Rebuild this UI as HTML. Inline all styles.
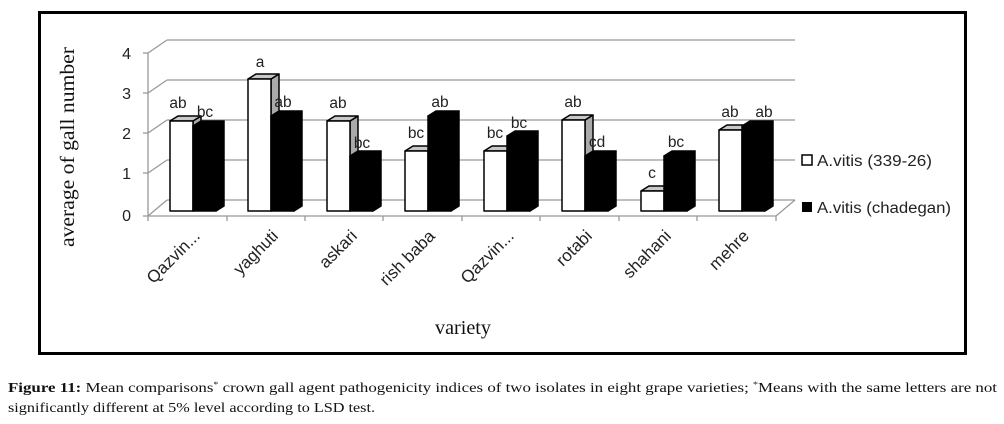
<!DOCTYPE html>
<html><head><meta charset="utf-8"><style>
body{margin:0;background:#fff;width:1004px;height:424px;overflow:hidden}
svg{display:block}
</style></head><body>
<svg width="1004" height="424" viewBox="0 0 1004 424" xmlns="http://www.w3.org/2000/svg">
<rect x="39.5" y="12.5" width="926" height="341" fill="none" stroke="#000" stroke-width="3"/>
<g stroke="#999" stroke-width="1.3" fill="none">
<line x1="167" y1="40" x2="795" y2="40"/>
<line x1="167" y1="80" x2="795" y2="80"/>
<line x1="167" y1="120" x2="795" y2="120"/>
<line x1="167" y1="160" x2="795" y2="160"/>
<line x1="167" y1="200" x2="795" y2="200"/>
<line x1="148" y1="53" x2="167" y2="40"/>
<line x1="148" y1="93" x2="167" y2="80"/>
<line x1="148" y1="133" x2="167" y2="120"/>
<line x1="148" y1="173" x2="167" y2="160"/>
<line x1="148" y1="216" x2="167" y2="200"/>
<line x1="776" y1="216" x2="795" y2="200"/>
<line x1="148" y1="53" x2="148" y2="216"/>
<line x1="148" y1="216" x2="776" y2="216"/>
<line x1="143" y1="53" x2="148" y2="53"/>
<line x1="143" y1="93" x2="148" y2="93"/>
<line x1="143" y1="133" x2="148" y2="133"/>
<line x1="143" y1="173" x2="148" y2="173"/>
<line x1="143" y1="216" x2="148" y2="216"/>
<line x1="148" y1="216" x2="148" y2="221"/>
<line x1="227" y1="216" x2="227" y2="221"/>
<line x1="305" y1="216" x2="305" y2="221"/>
<line x1="383" y1="216" x2="383" y2="221"/>
<line x1="462" y1="216" x2="462" y2="221"/>
<line x1="540" y1="216" x2="540" y2="221"/>
<line x1="619" y1="216" x2="619" y2="221"/>
<line x1="697" y1="216" x2="697" y2="221"/>
<line x1="776" y1="216" x2="776" y2="221"/>
</g>
<g font-family="Liberation Sans, sans-serif" font-size="16" fill="#222" text-anchor="end">
<text x="131" y="59">4</text><text x="131" y="99">3</text><text x="131" y="139">2</text><text x="131" y="179">1</text><text x="131" y="221">0</text>
</g>
<g stroke="#000" stroke-width="1.5" stroke-linejoin="round">
<polygon fill="#aaa" points="193,121 201,116 201,206 193,211"/><polygon fill="#c8c8c8" points="170,121 178,116 201,116 193,121"/><rect x="170" y="121" width="23" height="90" fill="#fff"/>
<polygon fill="#000" points="216,126 224,121 224,206 216,211"/><polygon fill="#000" points="193,126 201,121 224,121 216,126"/><rect x="193" y="126" width="23" height="85" fill="#000"/>
<polygon fill="#aaa" points="271,79 279,74 279,206 271,211"/><polygon fill="#c8c8c8" points="248,79 256,74 279,74 271,79"/><rect x="248" y="79" width="23" height="132" fill="#fff"/>
<polygon fill="#000" points="294,116 302,111 302,206 294,211"/><polygon fill="#000" points="271,116 279,111 302,111 294,116"/><rect x="271" y="116" width="23" height="95" fill="#000"/>
<polygon fill="#aaa" points="350,121 358,116 358,206 350,211"/><polygon fill="#c8c8c8" points="327,121 335,116 358,116 350,121"/><rect x="327" y="121" width="23" height="90" fill="#fff"/>
<polygon fill="#000" points="373,156 381,151 381,206 373,211"/><polygon fill="#000" points="350,156 358,151 381,151 373,156"/><rect x="350" y="156" width="23" height="55" fill="#000"/>
<polygon fill="#aaa" points="428,151 436,146 436,206 428,211"/><polygon fill="#c8c8c8" points="405,151 413,146 436,146 428,151"/><rect x="405" y="151" width="23" height="60" fill="#fff"/>
<polygon fill="#000" points="451,116 459,111 459,206 451,211"/><polygon fill="#000" points="428,116 436,111 459,111 451,116"/><rect x="428" y="116" width="23" height="95" fill="#000"/>
<polygon fill="#aaa" points="507,151 515,146 515,206 507,211"/><polygon fill="#c8c8c8" points="484,151 492,146 515,146 507,151"/><rect x="484" y="151" width="23" height="60" fill="#fff"/>
<polygon fill="#000" points="530,136 538,131 538,206 530,211"/><polygon fill="#000" points="507,136 515,131 538,131 530,136"/><rect x="507" y="136" width="23" height="75" fill="#000"/>
<polygon fill="#aaa" points="585,120 593,115 593,206 585,211"/><polygon fill="#c8c8c8" points="562,120 570,115 593,115 585,120"/><rect x="562" y="120" width="23" height="91" fill="#fff"/>
<polygon fill="#000" points="608,156 616,151 616,206 608,211"/><polygon fill="#000" points="585,156 593,151 616,151 608,156"/><rect x="585" y="156" width="23" height="55" fill="#000"/>
<polygon fill="#aaa" points="664,191 672,186 672,206 664,211"/><polygon fill="#c8c8c8" points="641,191 649,186 672,186 664,191"/><rect x="641" y="191" width="23" height="20" fill="#fff"/>
<polygon fill="#000" points="687,156 695,151 695,206 687,211"/><polygon fill="#000" points="664,156 672,151 695,151 687,156"/><rect x="664" y="156" width="23" height="55" fill="#000"/>
<polygon fill="#aaa" points="742,130 750,125 750,206 742,211"/><polygon fill="#c8c8c8" points="719,130 727,125 750,125 742,130"/><rect x="719" y="130" width="23" height="81" fill="#fff"/>
<polygon fill="#000" points="765,126 773,121 773,206 765,211"/><polygon fill="#000" points="742,126 750,121 773,121 765,126"/><rect x="742" y="126" width="23" height="85" fill="#000"/>
</g>
<g font-family="Liberation Sans, sans-serif" font-size="15.5" fill="#222" text-anchor="middle">
<text x="178" y="108">ab</text><text x="205" y="117">bc</text>
<text x="260" y="67">a</text><text x="283" y="107">ab</text>
<text x="338" y="108">ab</text><text x="362" y="148">bc</text>
<text x="416" y="138">bc</text><text x="440" y="107">ab</text>
<text x="495" y="138">bc</text><text x="519" y="128">bc</text>
<text x="573" y="107">ab</text><text x="597" y="147">cd</text>
<text x="652" y="178">c</text><text x="676" y="147">bc</text>
<text x="730" y="117">ab</text><text x="764" y="117">ab</text>
</g>
<g font-family="Liberation Sans, sans-serif" font-size="17" fill="#222" text-anchor="end">
<text transform="translate(201,237) rotate(-45)">Qazvin...</text>
<text transform="translate(279,237) rotate(-45)">yaghuti</text>
<text transform="translate(358,237) rotate(-45)">askari</text>
<text transform="translate(436,237) rotate(-45)">rish baba</text>
<text transform="translate(515,237) rotate(-45)">Qazvin...</text>
<text transform="translate(593,237) rotate(-45)">rotabi</text>
<text transform="translate(672,237) rotate(-45)">shahani</text>
<text transform="translate(750,237) rotate(-45)">mehre</text>
</g>
<rect x="802" y="155" width="10" height="10" fill="#fff" stroke="#000" stroke-width="1.5"/>
<rect x="802" y="202" width="10" height="10" fill="#000"/>
<g font-family="Liberation Sans, sans-serif" font-size="15.5" fill="#222">
<text x="817" y="166" textLength="115" lengthAdjust="spacingAndGlyphs">A.vitis (339-26)</text>
<text x="817" y="213" textLength="134" lengthAdjust="spacingAndGlyphs">A.vitis (chadegan)</text>
</g>
<g font-family="Liberation Serif, serif" font-size="20" fill="#111">
<text x="435" y="334" textLength="56" lengthAdjust="spacingAndGlyphs">variety</text>
<text transform="translate(74,247) rotate(-90)" textLength="200" lengthAdjust="spacingAndGlyphs">average of gall number</text>
</g>
<g font-family="Liberation Serif, serif" font-size="13.5" fill="#111">
<text x="8" y="392" textLength="989" lengthAdjust="spacingAndGlyphs"><tspan font-weight="bold">Figure 11:</tspan> Mean comparisons<tspan font-size="8" dy="-5">*</tspan><tspan dy="5"> crown gall agent pathogenicity indices of two isolates in eight grape varieties; </tspan><tspan font-size="8" dy="-5">*</tspan><tspan dy="5">Means with the same letters are not</tspan></text>
<text x="8" y="412" textLength="367" lengthAdjust="spacingAndGlyphs">significantly different at 5% level according to LSD test.</text>
</g>
</svg>
</body></html>
